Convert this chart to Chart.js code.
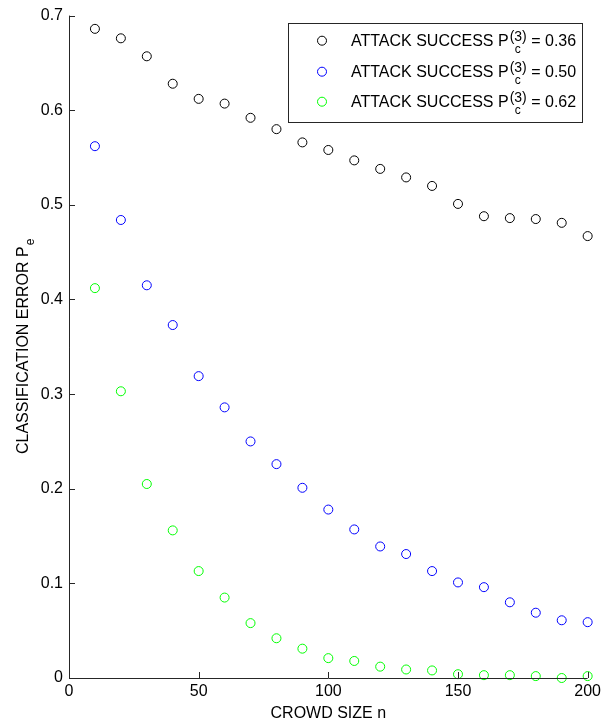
<!DOCTYPE html>
<html>
<head>
<meta charset="utf-8">
<script src="https://cdn.jsdelivr.net/npm/chart.js@4.4.0/dist/chart.umd.min.js"></script>
<style>
  html, body { margin: 0; padding: 0; background: #fff; }
  #wrap { width: 605px; height: 721px; }
</style>
</head>
<body>
<div id="wrap"><canvas id="grafico" width="605" height="721"></canvas></div>
<script>
// Dados
const tamanhoMultidao = [10, 20, 30, 40, 50, 60, 70, 80, 90, 100, 110, 120, 130, 140, 150, 160, 170, 180, 190, 200];
const erro036 = [0.686, 0.676, 0.657, 0.628, 0.612, 0.607, 0.592, 0.580, 0.566, 0.558, 0.547, 0.538, 0.529, 0.520, 0.501, 0.488, 0.486, 0.485, 0.481, 0.467];
const erro050 = [0.562, 0.484, 0.415, 0.373, 0.319, 0.286, 0.250, 0.226, 0.201, 0.178, 0.157, 0.139, 0.131, 0.113, 0.101, 0.096, 0.080, 0.069, 0.061, 0.059];
const erro062 = [0.412, 0.303, 0.205, 0.156, 0.113, 0.085, 0.058, 0.042, 0.031, 0.021, 0.018, 0.012, 0.009, 0.008, 0.004, 0.003, 0.003, 0.002, 0.000, 0.002];
const sucessoAtaque = ['0.36', '0.50', '0.62'];
const cores = ['#000000', '#0000ff', '#00ff00'];
const ticksX = [0, 50, 100, 150, 200];
const ticksY = [0, 0.1, 0.2, 0.3, 0.4, 0.5, 0.6, 0.7];

const FONTE = '"Liberation Sans", Arial, Helvetica, sans-serif';
const COR_EIXO = '#262626';

function pontos(valores) {
    return tamanhoMultidao.map((n, i) => ({ x: n, y: valores[i] }));
}

const series = [erro036, erro050, erro062];

// Plugin: eixos com marcas para dentro, títulos com subscrito e legenda com caixa
const pluginDesenho = {
    id: 'desenhoMatlab',
    afterDraw(chart) {
        const ctx = chart.ctx;
        const area = chart.chartArea;
        const sx = chart.scales.x;
        const sy = chart.scales.y;
        ctx.save();

        // linhas dos eixos
        ctx.strokeStyle = COR_EIXO;
        ctx.lineWidth = 1;
        ctx.beginPath();
        ctx.moveTo(area.left + 0.5, area.top);
        ctx.lineTo(area.left + 0.5, area.bottom + 0.5);
        ctx.lineTo(area.right, area.bottom + 0.5);
        ctx.stroke();

        // marcas para dentro
        ctx.beginPath();
        ticksY.forEach(v => {
            const y = Math.round(sy.getPixelForValue(v)) + 0.5;
            ctx.moveTo(area.left, y);
            ctx.lineTo(area.left + 6, y);
        });
        ticksX.forEach(v => {
            const x = Math.round(sx.getPixelForValue(v)) + 0.5;
            ctx.moveTo(x, area.bottom);
            ctx.lineTo(x, area.bottom - 6);
        });
        ctx.stroke();

        // título do eixo X
        ctx.fillStyle = '#000';
        ctx.font = '16px ' + FONTE;
        ctx.textAlign = 'center';
        ctx.textBaseline = 'alphabetic';
        ctx.fillText('CROWD SIZE n', (area.left + area.right) / 2, 717.5);

        // título do eixo Y (rotacionado, com subscrito e)
        ctx.save();
        const cy = (area.top + area.bottom) / 2;
        ctx.translate(27.5, cy);
        ctx.rotate(-Math.PI / 2);
        ctx.textAlign = 'left';
        ctx.font = '16px ' + FONTE;
        const base = 'CLASSIFICATION ERROR P';
        const wBase = ctx.measureText(base).width;
        ctx.font = '12px ' + FONTE;
        const wSub = ctx.measureText('e').width;
        const inicio = -(wBase + wSub) / 2;
        ctx.font = '16px ' + FONTE;
        ctx.fillText(base, inicio, 0);
        ctx.font = '12px ' + FONTE;
        ctx.fillText('e', inicio + wBase + 1, 6);
        ctx.restore();

        // legenda
        const caixa = { left: 288.5, top: 23.5, right: 582.5, bottom: 122.5 };
        ctx.fillStyle = '#fff';
        ctx.fillRect(caixa.left, caixa.top, caixa.right - caixa.left, caixa.bottom - caixa.top);
        ctx.strokeStyle = COR_EIXO;
        ctx.strokeRect(caixa.left, caixa.top, caixa.right - caixa.left, caixa.bottom - caixa.top);

        const linhas = [40.7, 71.7, 101.7];
        sucessoAtaque.forEach((valor, i) => {
            const ly = linhas[i];
            ctx.beginPath();
            ctx.strokeStyle = cores[i];
            ctx.arc(322, ly, 4.5, 0, Math.PI * 2);
            ctx.stroke();

            ctx.fillStyle = '#000';
            ctx.textAlign = 'left';
            let x = 351;
            const baseline = ly + 5.5;
            ctx.font = '16px ' + FONTE;
            const t1 = 'ATTACK SUCCESS P';
            ctx.fillText(t1, x, baseline);
            x += ctx.measureText(t1).width + 1;
            ctx.font = '14px ' + FONTE;
            ctx.fillText('(3)', x, baseline - 5);
            const wSup = ctx.measureText('(3)').width;
            ctx.font = '12px ' + FONTE;
            ctx.fillText('c', x + 5, baseline + 6.5);
            x += wSup;
            ctx.font = '16px ' + FONTE;
            ctx.fillText(' = ' + valor, x, baseline);
        });

        ctx.restore();
    }
};

const ctx = document.getElementById('grafico').getContext('2d');
const grafico = new Chart(ctx, {
    type: 'scatter',
    data: {
        datasets: series.map((vals, i) => ({
            label: 'ATTACK SUCCESS ' + sucessoAtaque[i],
            data: pontos(vals),
            borderColor: cores[i],
            backgroundColor: 'rgba(0,0,0,0)',
            pointRadius: 4.5,
            pointBorderWidth: 1,
            pointHoverRadius: 4.5,
            showLine: false,
            clip: false
        }))
    },
    options: {
        responsive: false,
        animation: false,
        devicePixelRatio: 1,
        layout: { padding: { top: 14, right: 15, left: 0, bottom: 0 } },
        plugins: {
            legend: { display: false },
            tooltip: { enabled: false }
        },
        scales: {
            x: {
                type: 'linear',
                min: 0,
                max: 200,
                afterBuildTicks: s => { s.ticks = ticksX.map(v => ({ value: v })); },
                afterFit: s => { s.height = 43; },
                grid: { display: false, drawTicks: false },
                border: { display: false },
                ticks: {
                    color: '#000',
                    padding: 4,
                    maxRotation: 0,
                    font: { family: FONTE, size: 16 }
                }
            },
            y: {
                type: 'linear',
                min: 0,
                max: 0.7,
                afterBuildTicks: s => { s.ticks = ticksY.map(v => ({ value: v })); },
                afterFit: s => { s.width = 69; },
                grid: { display: false, drawTicks: false },
                border: { display: false },
                ticks: {
                    color: '#000',
                    padding: 6,
                    font: { family: FONTE, size: 16 },
                    callback: v => String(Math.round(v * 10) / 10)
                }
            }
        }
    },
    plugins: [pluginDesenho]
});
</script>
</body>
</html>
